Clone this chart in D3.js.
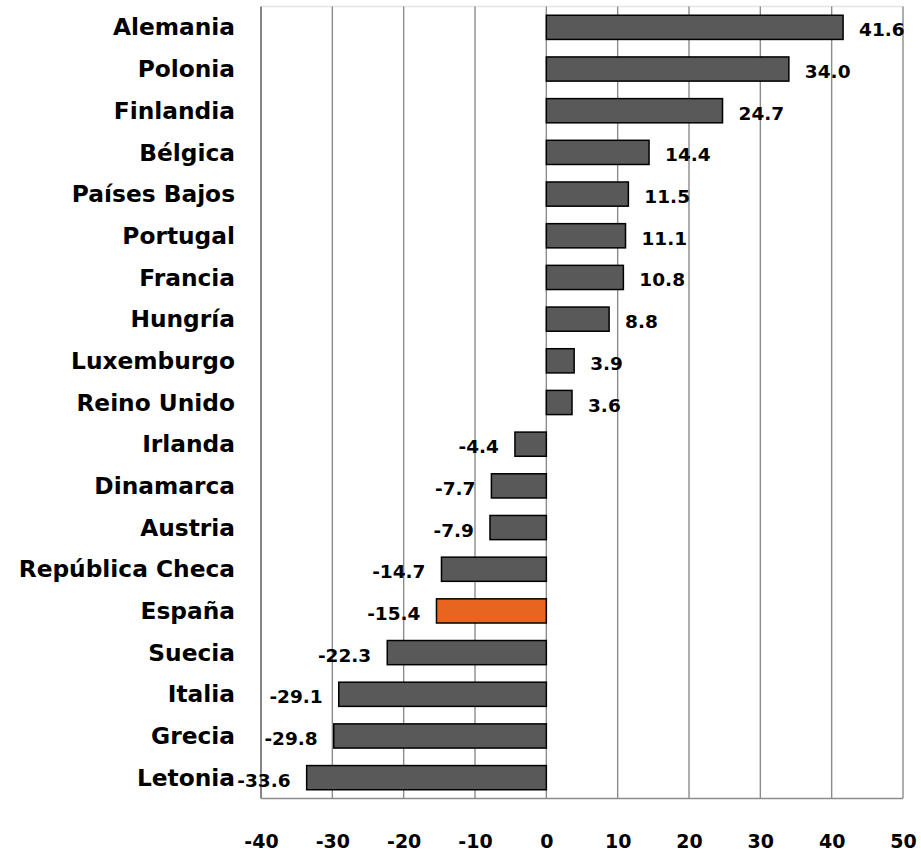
<!DOCTYPE html>
<html>
<head>
<meta charset="utf-8">
<script src="https://cdn.jsdelivr.net/npm/d3@7"></script>
<style>
  html, body { margin: 0; padding: 0; background: #ffffff; }
  svg { display: block; }
</style>
</head>
<body>
<svg id="chart" width="921" height="853"></svg>
<script>
const categories = ["Alemania","Polonia","Finlandia","Bélgica","Países Bajos","Portugal","Francia","Hungría","Luxemburgo","Reino Unido","Irlanda","Dinamarca","Austria","República Checa","España","Suecia","Italia","Grecia","Letonia"];
const values = [41.6, 34.0, 24.7, 14.4, 11.5, 11.1, 10.8, 8.8, 3.9, 3.6, -4.4, -7.7, -7.9, -14.7, -15.4, -22.3, -29.1, -29.8, -33.6];
const highlight = ["España"];
const tickValues = [-40, -30, -20, -10, 0, 10, 20, 30, 40, 50];

const data = categories.map((c, i) => ({ name: c, value: values[i] }));

const svg = d3.select("#chart");
const plotLeft = 261, plotRight = 903, plotTop = 6.5, plotBottom = 798.5;

const x = d3.scaleLinear().domain([-40, 50]).range([plotLeft, plotRight]);
const y = d3.scaleBand().domain(categories).range([plotTop, plotBottom]).paddingInner(0.42).paddingOuter(0.21);

const font = "'DejaVu Sans', sans-serif";

// top faint border
svg.append("line")
  .attr("x1", plotLeft).attr("x2", plotRight).attr("y1", plotTop).attr("y2", plotTop)
  .attr("stroke", "#e4e4e4").attr("stroke-width", 1.5);

// gridlines
svg.append("g").selectAll("line").data(tickValues).join("line")
  .attr("x1", d => x(d)).attr("x2", d => x(d))
  .attr("y1", plotTop).attr("y2", plotBottom)
  .attr("stroke", d => d === -40 ? "#858585" : "#8c8c8c")
  .attr("stroke-width", d => d === -40 ? 2 : 1.4);

// bottom axis line
svg.append("line")
  .attr("x1", plotLeft).attr("x2", plotRight).attr("y1", plotBottom).attr("y2", plotBottom)
  .attr("stroke", "#8c8c8c").attr("stroke-width", 1.5);

// bars
svg.append("g").selectAll("rect").data(data).join("rect")
  .attr("x", d => x(Math.min(0, d.value)))
  .attr("y", d => y(d.name))
  .attr("width", d => Math.abs(x(d.value) - x(0)))
  .attr("height", y.bandwidth())
  .attr("fill", d => highlight.includes(d.name) ? "#E8651F" : "#595959")
  .attr("stroke", "#000")
  .attr("stroke-width", 1.5);

// value labels
svg.append("g").selectAll("text").data(data).join("text")
  .attr("x", d => d.value >= 0 ? x(d.value) + 16 : x(d.value) - 16)
  .attr("y", d => y(d.name) + y.bandwidth() / 2 + 9)
  .attr("text-anchor", d => d.value >= 0 ? "start" : "end")
  .attr("font-family", font)
  .attr("font-weight", "bold")
  .attr("font-size", "18.5px")
  .attr("fill", "#000")
  .text(d => d3.format(".1f")(d.value).replace("−", "-"));

// category labels
const yAxis = d3.axisLeft(y).tickSize(0).tickPadding(0);
const gy = svg.append("g").attr("transform", `translate(${plotLeft - 26},0)`).call(yAxis);
gy.select(".domain").remove();
gy.selectAll("text")
  .attr("font-family", font)
  .attr("font-weight", "bold")
  .attr("font-size", "23.3px")
  .attr("fill", "#000")
  .attr("dy", "0.35em");

// x tick labels
const xAxis = d3.axisBottom(x).tickValues(tickValues).tickSize(0).tickPadding(0).tickFormat(d => d < 0 ? "-" + Math.abs(d) : String(d));
const gx = svg.append("g").attr("transform", `translate(0,${plotBottom})`).call(xAxis);
gx.select(".domain").remove();
gx.selectAll("text")
  .attr("font-family", font)
  .attr("font-weight", "bold")
  .attr("font-size", "19px")
  .attr("fill", "#000")
  .attr("dy", 0)
  .attr("y", 49);
</script>
</body>
</html>
